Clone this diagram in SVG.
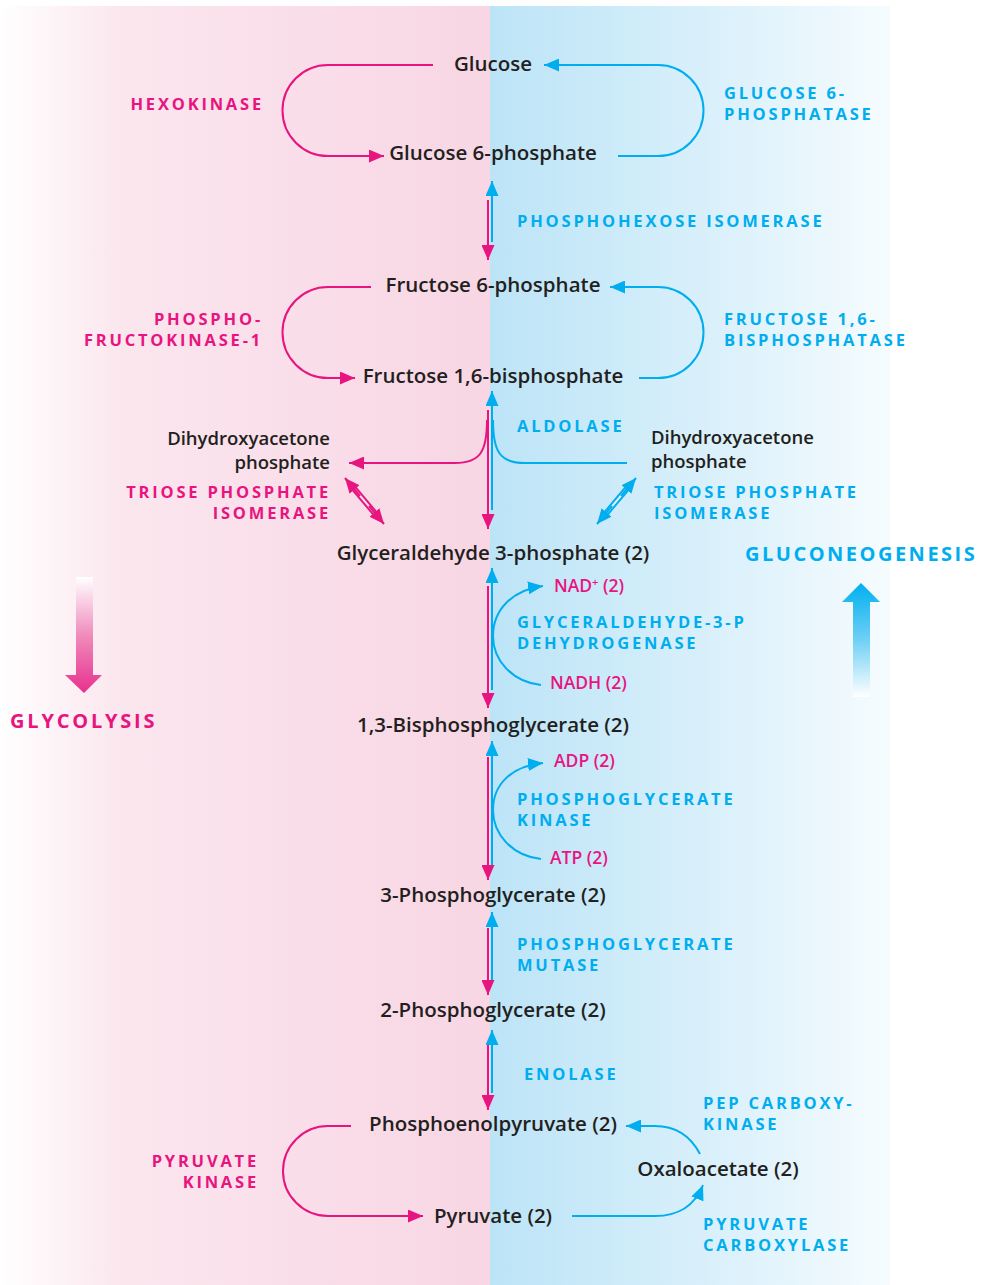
<svg xmlns="http://www.w3.org/2000/svg" width="982" height="1285" viewBox="0 0 982 1285">
<defs>
<linearGradient id="bgL" x1="0" y1="0" x2="1" y2="0">
<stop offset="0" stop-color="#ffffff"/>
<stop offset="0.25" stop-color="#fbe6ee"/>
<stop offset="1" stop-color="#f8d6e4"/>
</linearGradient>
<linearGradient id="bgR" x1="0" y1="0" x2="1" y2="0">
<stop offset="0" stop-color="#bce4f7"/>
<stop offset="0.6" stop-color="#dcf1fb"/>
<stop offset="1" stop-color="#f6fcfe"/>
</linearGradient>
<linearGradient id="gPink" x1="0" y1="0" x2="0" y2="1">
<stop offset="0" stop-color="#ffffff"/>
<stop offset="0.5" stop-color="#f08cbc"/>
<stop offset="1" stop-color="#e8308d"/>
</linearGradient>
<linearGradient id="gBlue" x1="0" y1="1" x2="0" y2="0">
<stop offset="0" stop-color="#ffffff"/>
<stop offset="0.5" stop-color="#6fd0f5"/>
<stop offset="1" stop-color="#00b0ef"/>
</linearGradient>
<marker id="ap" markerUnits="userSpaceOnUse" viewBox="0 0 15 13" refX="15" refY="6.5" markerWidth="15" markerHeight="13" orient="auto">
<path d="M0,0 L15,6.5 L0,13 z" fill="#e8147f"/>
</marker>
<marker id="ab" markerUnits="userSpaceOnUse" viewBox="0 0 15 13" refX="15" refY="6.5" markerWidth="15" markerHeight="13" orient="auto">
<path d="M0,0 L15,6.5 L0,13 z" fill="#00aeef"/>
</marker>
<style>
.node{font-family:"Open Sans","Noto Sans",sans-serif;font-weight:600;font-size:20.5px;fill:#231f20}
.dh{font-size:18.5px}
.enz{font-family:"Open Sans","Noto Sans",sans-serif;font-weight:700;font-size:16.5px;letter-spacing:2.8px}
.big{font-family:"Open Sans","Noto Sans",sans-serif;font-weight:700;font-size:20px;letter-spacing:2.8px}
.cof{font-family:"Open Sans","Noto Sans",sans-serif;font-weight:600;font-size:17.5px;fill:#e8147f}
.pk{fill:#e8147f}
.bl{fill:#00aeef}
.lp{fill:none;stroke:#e8147f;stroke-width:2}
.lb{fill:none;stroke:#00aeef;stroke-width:2}
</style>
</defs>
<g id="background">
<rect x="0" y="6" width="490" height="1279" fill="url(#bgL)"/>
<rect x="490" y="6" width="400" height="1279" fill="url(#bgR)"/>
</g>
<g id="connectors">
<path class="lp" d="M433,65 H328 A45.5,45.5 0 0 0 328,156 H384" marker-end="url(#ap)"/>
<path class="lb" d="M618,156 H658 A45.5,45.5 0 0 0 658,65 H544" marker-end="url(#ab)"/>
<path class="lp" d="M371,287 H328 A45.5,45.5 0 0 0 328,378 H355" marker-end="url(#ap)"/>
<path class="lb" d="M639,378 H658 A45.5,45.5 0 0 0 658,287 H610" marker-end="url(#ab)"/>
<path class="lp" d="M488,200 V260" marker-end="url(#ap)"/>
<path class="lb" d="M492,242 V181" marker-end="url(#ab)"/>
<path class="lp" d="M488,410 V529" marker-end="url(#ap)"/>
<path class="lb" d="M492,510 V391" marker-end="url(#ab)"/>
<path class="lp" d="M487,420 C487,452 480,463 455,463 H349" marker-end="url(#ap)"/>
<path class="lb" d="M493,420 C493,452 500,463 525,463 H627"/>
<path class="lp" d="M488,586 V708" marker-end="url(#ap)"/>
<path class="lb" d="M492,690 V568" marker-end="url(#ab)"/>
<path class="lb" d="M541,685 C512,682 493,660 493,636 C493,610 512,590 543,586" marker-end="url(#ab)"/>
<path class="lp" d="M488,757 V880" marker-end="url(#ap)"/>
<path class="lb" d="M492,865 V741" marker-end="url(#ab)"/>
<path class="lb" d="M541,859 C512,856 493,834 493,810 C493,784 512,766 543,763" marker-end="url(#ab)"/>
<path class="lp" d="M488,928 V995" marker-end="url(#ap)"/>
<path class="lb" d="M492,980 V912" marker-end="url(#ab)"/>
<path class="lp" d="M488,1045 V1110" marker-end="url(#ap)"/>
<path class="lb" d="M492,1093 V1030" marker-end="url(#ab)"/>
<path class="lp" d="M351,1126 H328 A45,45 0 0 0 328,1216 H423" marker-end="url(#ap)"/>
<path class="lb" d="M572,1216 H655 C680,1216 695,1205 703,1185" marker-end="url(#ab)"/>
<path class="lb" d="M700,1154 C690,1135 675,1126 655,1126 H626" marker-end="url(#ab)"/>
<g id="tpi-left">
<line x1="351" y1="485" x2="378" y2="517" stroke="#e8147f" stroke-width="6"/>
<line x1="351" y1="485" x2="378" y2="517" stroke="#fbe3ec" stroke-width="2"/>
<path class="lp" d="M360,496 L345,478" marker-end="url(#ap)"/>
<path class="lp" d="M369,506 L384,524" marker-end="url(#ap)"/>
</g>
<g id="tpi-right">
<line x1="630" y1="485" x2="603" y2="517" stroke="#00aeef" stroke-width="6"/>
<line x1="630" y1="485" x2="603" y2="517" stroke="#ddf1fb" stroke-width="2"/>
<path class="lb" d="M621,496 L636,478" marker-end="url(#ab)"/>
<path class="lb" d="M612,506 L597,524" marker-end="url(#ab)"/>
</g>
</g>
<g id="glycolysis-arrow">
<path d="M76,577 H93 V675 H102 L84,693 L65,675 H76 Z" fill="url(#gPink)"/>
<text class="big pk" x="10" y="728">GLYCOLYSIS</text>
</g>
<g id="gluconeogenesis-arrow">
<path d="M853,697 V602 H842 L861,583 L880,602 H870 V697 Z" fill="url(#gBlue)"/>
<text class="big bl" x="745" y="561" style="letter-spacing:2.5px">GLUCONEOGENESIS</text>
</g>
<g id="n-glucose"><text class="node" x="493" y="71" text-anchor="middle">Glucose</text></g>
<g id="n-g6p"><text class="node" x="493" y="160" text-anchor="middle">Glucose 6-phosphate</text></g>
<g id="n-f6p"><text class="node" x="493" y="292" text-anchor="middle">Fructose 6-phosphate</text></g>
<g id="n-f16bp"><text class="node" x="493" y="383" text-anchor="middle">Fructose 1,6-bisphosphate</text></g>
<g id="n-dhap-left"><text class="node dh" x="330" y="445" text-anchor="end">Dihydroxyacetone</text><text class="node dh" x="330" y="469" text-anchor="end">phosphate</text></g>
<g id="n-dhap-right"><text class="node dh" x="651" y="444">Dihydroxyacetone</text><text class="node dh" x="651" y="468">phosphate</text></g>
<g id="n-gap"><text class="node" x="493" y="560" text-anchor="middle">Glyceraldehyde 3-phosphate (2)</text></g>
<g id="n-bpg"><text class="node" x="493" y="732" text-anchor="middle">1,3-Bisphosphoglycerate (2)</text></g>
<g id="n-3pg"><text class="node" x="493" y="902" text-anchor="middle">3-Phosphoglycerate (2)</text></g>
<g id="n-2pg"><text class="node" x="493" y="1017" text-anchor="middle">2-Phosphoglycerate (2)</text></g>
<g id="n-pep"><text class="node" x="493" y="1131" text-anchor="middle">Phosphoenolpyruvate (2)</text></g>
<g id="n-oaa"><text class="node" x="718" y="1176" text-anchor="middle">Oxaloacetate (2)</text></g>
<g id="n-pyruvate"><text class="node" x="493" y="1223" text-anchor="middle">Pyruvate (2)</text></g>
<g id="enzymes">
<text class="enz pk" x="264" y="110" text-anchor="end">HEXOKINASE</text>
<text class="enz bl" x="724" y="99">GLUCOSE 6-</text>
<text class="enz bl" x="724" y="120">PHOSPHATASE</text>
<text class="enz bl" x="517" y="227">PHOSPHOHEXOSE ISOMERASE</text>
<text class="enz pk" x="263" y="325" text-anchor="end">PHOSPHO-</text>
<text class="enz pk" x="263" y="346" text-anchor="end">FRUCTOKINASE-1</text>
<text class="enz bl" x="724" y="325">FRUCTOSE 1,6-</text>
<text class="enz bl" x="724" y="346">BISPHOSPHATASE</text>
<text class="enz bl" x="517" y="432">ALDOLASE</text>
<text class="enz pk" x="331" y="498" text-anchor="end">TRIOSE PHOSPHATE</text>
<text class="enz pk" x="331" y="519" text-anchor="end">ISOMERASE</text>
<text class="enz bl" x="654" y="498">TRIOSE PHOSPHATE</text>
<text class="enz bl" x="654" y="519">ISOMERASE</text>
<text class="enz bl" x="517" y="628">GLYCERALDEHYDE-3-P</text>
<text class="enz bl" x="517" y="649">DEHYDROGENASE</text>
<text class="enz bl" x="517" y="805">PHOSPHOGLYCERATE</text>
<text class="enz bl" x="517" y="826">KINASE</text>
<text class="enz bl" x="517" y="950">PHOSPHOGLYCERATE</text>
<text class="enz bl" x="517" y="971">MUTASE</text>
<text class="enz bl" x="524" y="1080">ENOLASE</text>
<text class="enz bl" x="703" y="1109">PEP CARBOXY-</text>
<text class="enz bl" x="703" y="1130">KINASE</text>
<text class="enz pk" x="259" y="1167" text-anchor="end">PYRUVATE</text>
<text class="enz pk" x="259" y="1188" text-anchor="end">KINASE</text>
<text class="enz bl" x="703" y="1230">PYRUVATE</text>
<text class="enz bl" x="703" y="1251">CARBOXYLASE</text>
</g>
<g id="cofactors">
<text class="cof" x="554" y="592">NAD<tspan font-size="11px" dy="-6">+</tspan><tspan dy="6"> (2)</tspan></text>
<text class="cof" x="550" y="689">NADH (2)</text>
<text class="cof" x="554" y="767">ADP (2)</text>
<text class="cof" x="550" y="864">ATP (2)</text>
</g>
</svg>
